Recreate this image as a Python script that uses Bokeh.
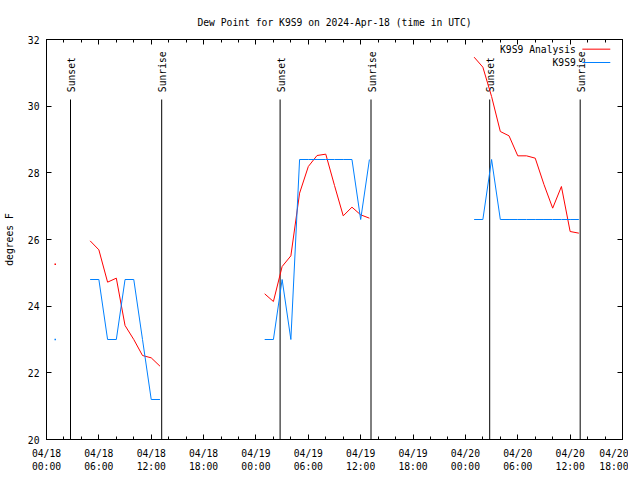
import math
from datetime import datetime, timedelta
import numpy as np
from bokeh.plotting import figure
from bokeh.models import (Range1d, FixedTicker, DatetimeTickFormatter, LinearAxis,
                          DatetimeAxis, ColumnDataSource, CustomJSTickFormatter)
from bokeh.core.properties import value
from bokeh.embed import file_html
from bokeh.resources import INLINE

NaN = float("nan")

# ---- data (hourly, starting 2024-04-18 00:00 UTC) ----
start = datetime(2024, 4, 18, 0)
end = datetime(2024, 4, 20, 18)
n_hours = 62

analysis = [NaN, 25.26, NaN, NaN, NaN,
            25.96, 25.69, 24.72, 24.84, 23.42, 23.00, 22.52, 22.45, 22.20,
            NaN, NaN, NaN, NaN, NaN, NaN, NaN, NaN, NaN, NaN, NaN,
            24.37, 24.14, 25.19, 25.51, 27.39, 28.19, 28.52, 28.56, 27.62,
            26.71, 26.97, 26.74, 26.64,
            NaN, NaN, NaN, NaN, NaN, NaN, NaN, NaN, NaN, NaN, NaN,
            31.47, 31.17, 30.29, 29.24, 29.11, 28.51, 28.51, 28.44, 27.65,
            26.94, 27.59, 26.24, 26.19]

observed = [NaN, 23.0, NaN, NaN, NaN,
            24.8, 24.8, 23.0, 23.0, 24.8, 24.8, 23.0, 21.2, 21.2,
            NaN, NaN, NaN, NaN, NaN, NaN, NaN, NaN, NaN, NaN, NaN,
            23.0, 23.0, 24.8, 23.0, 28.4, 28.4, 28.4, 28.4, 28.4,
            28.4, 28.4, 26.6, 28.4,
            NaN, NaN, NaN, NaN, NaN, NaN, NaN, NaN, NaN, NaN, NaN,
            26.6, 26.6, 28.4, 26.6, 26.6, 26.6, 26.6, 26.6, 26.6,
            26.6, 26.6, 26.6, 26.6]

sun_times = [datetime(2024, 4, 18, 2, 45), datetime(2024, 4, 18, 13, 12),
             datetime(2024, 4, 19, 2, 46), datetime(2024, 4, 19, 13, 11),
             datetime(2024, 4, 20, 2, 47), datetime(2024, 4, 20, 13, 9)]
sun_labels = ["Sunset", "Sunrise", "Sunset", "Sunrise", "Sunset", "Sunrise"]

series_names = ["K9S9 Analysis", "K9S9"]
series_colors = ["#ff0000", "#0080ff"]

y_ticks = [20, 22, 24, 26, 28, 30, 32]

# ---- helpers ----
EPOCH = datetime(1970, 1, 1)
def ms(t):
    return (t - EPOCH).total_seconds() * 1000.0

times = [start + timedelta(hours=h) for h in range(n_hours)]
FONT = "DejaVu Sans Mono"
FS = "9.7px"

p = figure(x_axis_type="datetime",
           x_range=Range1d(start, end), y_range=Range1d(20, 32),
           frame_width=576, frame_height=400,
           min_border_left=43, min_border_right=6,
           min_border_top=39, min_border_bottom=30,
           output_backend="svg", toolbar_location=None,
           title="Dew Point for K9S9 on 2024-Apr-18 (time in UTC)")
p.grid.visible = False
p.outline_line_color = "black"
p.outline_line_alpha = 1.0
p.background_fill_color = "white"
p.border_fill_color = "white"

p.title.text_font = FONT
p.title.text_font_size = FS
p.title.text_font_style = "normal"
p.title.text_color = "black"
p.title.align = "center"
p.title.standoff = 24

major_x = [ms(start + timedelta(hours=h)) for h in range(0, 67, 6)]
minor_x = [ms(start + timedelta(hours=h)) for h in range(0, 67, 2)]
fmt = "%m/%d\n%H:%M"
xfmt = DatetimeTickFormatter(microseconds=fmt, milliseconds=fmt, seconds=fmt,
                             minsec=fmt, minutes=fmt, hourmin=fmt, hours=fmt,
                             days=fmt, months=fmt, years=fmt)

def style_axis(ax):
    ax.axis_line_color = "black"
    ax.major_tick_line_color = "black"
    ax.minor_tick_line_color = "black"
    ax.major_tick_in = 5
    ax.major_tick_out = 0
    ax.minor_tick_in = 3
    ax.minor_tick_out = 0
    ax.major_label_text_font = FONT
    ax.major_label_text_font_size = FS
    ax.major_label_text_color = "black"

xa = p.xaxis[0]
xa.ticker = FixedTicker(ticks=major_x, minor_ticks=minor_x)
xa.formatter = xfmt
style_axis(xa)
xa.major_label_standoff = 8

ya = p.yaxis[0]
ya.ticker = FixedTicker(ticks=y_ticks)
style_axis(ya)
ya.minor_tick_in = 0
ya.major_label_standoff = 7
ya.axis_label = "degrees F"
ya.axis_label_text_font = FONT
ya.axis_label_text_font_size = FS
ya.axis_label_text_font_style = "normal"
ya.axis_label_text_color = "black"
ya.axis_label_standoff = 10

blank = CustomJSTickFormatter(code="return ''")
top = DatetimeAxis(ticker=FixedTicker(ticks=major_x, minor_ticks=minor_x), formatter=blank)
style_axis(top)
top.major_label_standoff = 0
p.add_layout(top, "above")

right = LinearAxis(ticker=FixedTicker(ticks=y_ticks), formatter=blank)
style_axis(right)
right.minor_tick_in = 0
right.major_label_standoff = 0
p.add_layout(right, "right")

# ---- sunrise / sunset markers ----
sun_src = ColumnDataSource(dict(x=sun_times, lab=sun_labels))
p.segment(x0="x", y0=20, x1="x", y1=30.2, source=sun_src, line_color="black", line_width=1)
p.text(x="x", y=30.42, text="lab", source=sun_src, angle=math.pi / 2,
       text_align="left", text_baseline="middle", x_offset=1,
       text_font=value(FONT), text_font_size=FS, text_color="black")

# ---- series ----
for vals, col in zip([analysis, observed], series_colors):
    arr = np.array(vals, dtype=float)
    p.line(times, arr, line_color=col, line_width=1)
    # isolated points (no neighbours) drawn as dots
    iso_t, iso_v = [], []
    for i, v in enumerate(arr):
        if np.isnan(v):
            continue
        left_nan = i == 0 or np.isnan(arr[i - 1])
        right_nan = i == len(arr) - 1 or np.isnan(arr[i + 1])
        if left_nan and right_nan:
            iso_t.append(times[i]); iso_v.append(v)
    if iso_t:
        p.scatter(iso_t, iso_v, marker="square", size=1.5, fill_color=col, line_color=None)

# ---- key (top right, gnuplot style) ----
key_y = [31.71, 31.31]
for name, col, ky in zip(series_names, series_colors, key_y):
    p.text(x=[end - timedelta(hours=5.35)], y=[ky], text=[name], text_align="right",
           text_baseline="middle", text_font=value(FONT), text_font_size=FS, text_color="black")
    p.line(x=[end - timedelta(hours=4.6), end - timedelta(hours=1.4)], y=[ky, ky],
           line_color=col, line_width=1)

open("out.html", "w").write(file_html(p, INLINE))
